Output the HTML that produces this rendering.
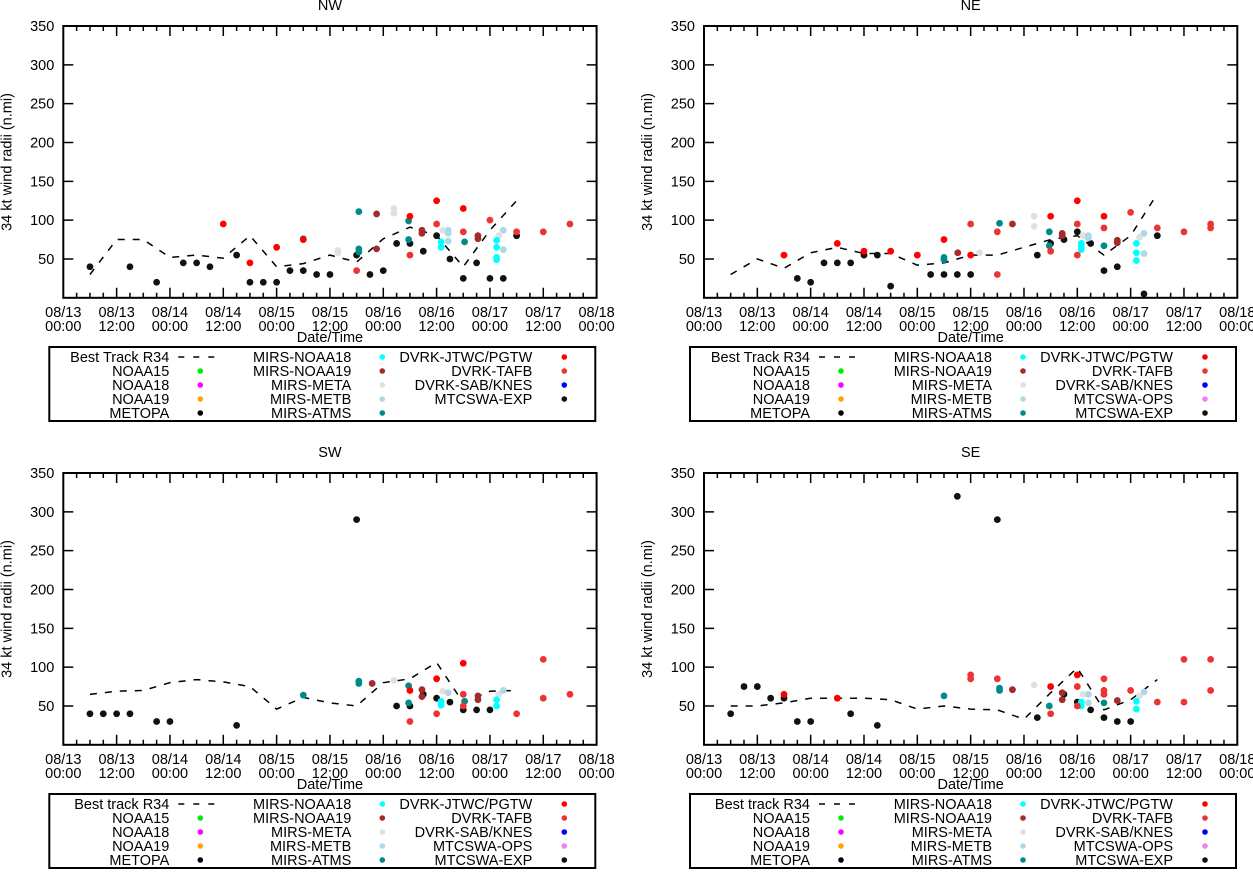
<!DOCTYPE html>
<html><head><meta charset="utf-8"><style>
html,body{margin:0;padding:0;background:#fff;}
svg text{font-family:"Liberation Sans",sans-serif;font-size:14.5px;fill:#000;}
</style></head><body>
<svg id="c" width="1253" height="870" xmlns="http://www.w3.org/2000/svg"></svg>
<script>
const xTickTop = ["08/13","08/13","08/14","08/14","08/15","08/15","08/16","08/16","08/17","08/17","08/18"];
const xTickBot = ["00:00","12:00","00:00","12:00","00:00","12:00","00:00","12:00","00:00","12:00","00:00"];
const yTicks = [50,100,150,200,250,300,350];

// NW
const NW_BEST = [[6,30],[12,75],[18,75],[24,52],[30,55],[36,51],[42,80],[48,40],[54,44],[60,55],[66,46],[72,76],[78,91],[84,80],[90,40],[96,87],[102,125]];
const NW_BLACK = [[6,40],[15,40],[21,20],[27,45],[30,45],[33,40],[39,55],[42,20],[45,20],[48,20],[51,35],[54,35],[57,30],[60,30],[66,55],[69,30],[72,35],[75,70],[78,70],[81,60],[84,80],[87,50],[90,25],[93,45],[96,25],[99,25],[102,80]];
const NW_JTWC = [[36,95],[42,45],[48,65],[54,75],[78,105],[84,125],[90,115]];
const NW_TAFB = [[66,35],[78,55],[84,95],[90,85],[96,100],[102,85],[108,85],[114,95]];
const NW_N19 = [[70.5,108],[70.5,63],[80.7,87],[80.7,83],[93.3,80],[93.3,76]];
const NW_META = [[61.8,61],[61.8,58],[74.4,115],[74.4,109],[85.4,87],[98,80]];
const NW_METB = [[86.6,87],[86.6,83],[86.6,73],[99,87],[99,62]];
const NW_N18 = [[85,72],[85,65],[97.5,74],[97.5,65],[97.5,52],[97.5,49]];
const NW_ATMS = [[66.5,111],[66.5,63],[66.5,59],[54,76],[77.7,99],[77.7,75],[90.3,72]];
// NE
const NE_BEST = [[6,30],[12,50],[18,38],[24,58],[30,65],[36,57],[42,57],[48,42],[54,45],[60,55],[66,55],[72,65],[78,75],[84,80],[90,55],[96,80],[102,134]];
const NE_BLACK = [[21,25],[24,20],[27,45],[30,45],[33,45],[36,55],[39,55],[42,15],[51,30],[54,30],[57,30],[60,30],[75,55],[78,70],[81,75],[84,85],[87,70],[90,35],[93,40],[99,5],[102,80]];
const NE_JTWC = [[18,55],[30,70],[36,60],[42,60],[48,55],[54,75],[60,55],[78,105],[84,125],[90,105]];
const NE_TAFB = [[60,95],[66,85],[66,30],[78,60],[84,95],[84,55],[90,90],[96,110],[102,90],[108,85],[114,95],[114,90]];
const NE_N19 = [[57.1,58],[69.4,95],[80.6,83],[80.6,80],[93,74],[93,71]];
const NE_META = [[62,58],[74.3,105],[74.3,92],[85.3,80],[98,78]];
const NE_METB = [[86.5,80],[86.5,77],[99,83],[99,57]];
const NE_N18 = [[84.9,70],[84.9,66],[84.9,62],[97.3,70],[97.3,58],[97.3,48]];
const NE_ATMS = [[54,52],[54,49],[66.5,96],[77.7,85],[77.7,67],[90,67]];
// SW
const SW_BEST = [[6,65],[12,69],[18,70],[24,80],[30,84],[36,81],[42,75],[48,46],[54,61],[60,54],[66,50],[72,80],[78,85],[84,106],[90,54],[96,69],[102,70]];
const SW_BLACK = [[6,40],[9,40],[12,40],[15,40],[21,30],[24,30],[39,25],[66,290],[75,50],[78,50],[81,65],[84,60],[87,55],[90,45],[93,45],[96,45]];
const SW_JTWC = [[78,70],[84,85],[90,105]];
const SW_TAFB = [[78,30],[84,40],[90,65],[90,50],[102,40],[108,110],[108,60],[114,65]];
const SW_N19 = [[69.5,79],[80.7,71],[80.7,62],[93.3,63],[93.3,58]];
const SW_META = [[74.4,83],[85.4,69],[98,65]];
const SW_METB = [[86.6,67],[99,70]];
const SW_N18 = [[85,56],[85,51],[97.5,58],[97.5,50]];
const SW_ATMS = [[54,64],[66.5,82],[66.5,79],[77.7,76],[77.7,54],[90.3,56]];
// SE
const SE_BEST = [[6,50],[12,50],[18,54],[24,60],[30,60],[36,60],[42,58],[48,46],[54,50],[60,46],[66,45],[72,33],[78,67],[84,99],[90,45],[96,58],[102,84]];
const SE_BLACK = [[6,40],[9,75],[12,75],[15,60],[18,60],[21,30],[24,30],[33,40],[39,25],[57,320],[66,290],[75,35],[81,65],[84,55],[87,45],[90,35],[93,30],[96,30]];
const SE_JTWC = [[18,65],[30,60],[78,75],[84,90]];
const SE_TAFB = [[60,90],[60,85],[66,85],[78,40],[84,75],[84,50],[90,85],[90,70],[90,65],[96,70],[102,55],[108,110],[108,55],[114,110],[114,70]];
const SE_N19 = [[69.4,71],[80.6,67],[80.6,58],[93,57]];
const SE_META = [[74.3,77],[85.3,65],[98,63]];
const SE_METB = [[86.5,65],[86.5,54],[99,68]];
const SE_N18 = [[84.9,55],[84.9,50],[97.3,56],[97.3,46]];
const SE_ATMS = [[54,63],[66.5,73],[66.5,70],[77.7,50],[90,54]];

const NS="http://www.w3.org/2000/svg";
const svg=document.getElementById('c');
function mk(tag,attrs,parent){const e=document.createElementNS(NS,tag);for(const k in attrs)e.setAttribute(k,attrs[k]);(parent||svg).appendChild(e);return e;}
const PW=533.3, PH=271.8, HRS=120, VMAX=350;
const COL={best:'#000',black:'#111',jtwc:'#ff0000',tafb:'#ee3333',n19:'#a52a2a',meta:'#e0e0e0',metb:'#add8e6',n18:'#00ffff',atms:'#008b8b'};

function panel(name,title,L,T,best,series,bestLabel,hasOps){
  const g=mk('g',{});
  
  
  const xs=h=>L+h*PW/HRS, ys=v=>T+(VMAX-v)*PH/VMAX;
  const t=mk('text',{x:L+PW/2,y:T-16,'text-anchor':'middle'},g);t.textContent=title;
  
  
  const yl=mk('text',{x:0,y:0,'text-anchor':'middle',transform:`translate(${L-52},${T+136}) rotate(-90)`},g);yl.textContent='34 kt wind radii (n.mi)';
  
  
  const xl=mk('text',{x:L+PW/2,y:T+316,'text-anchor':'middle'},g);xl.textContent='Date/Time';
  
  
  let d='';
  for(let h=3;h<HRS;h+=3){const len=(h%12===0)?10:5;const x=xs(h);d+=`M${x},${T+PH}v${-len}M${x},${T}v${len}`;}
  yTicks.forEach(v=>{if(v<VMAX){const y=ys(v);d+=`M${L},${y}h10M${L+PW},${y}h-10`;}});
  const tk=mk('path',{d:d,stroke:'#000','stroke-width':1.5,fill:'none'},g);
  
  
  yTicks.forEach(v=>{const e=mk('text',{x:L-9,y:ys(v)+5,'text-anchor':'end'},g);e.textContent=v;
    
    });
  xTickTop.forEach((s,i)=>{const x=xs(i*12);
    const a=mk('text',{x:x,y:T+291,'text-anchor':'middle'},g);a.textContent=s;
    
    
    const b=mk('text',{x:x,y:T+305,'text-anchor':'middle'},g);b.textContent=xTickBot[i];
    
    });
  const bp=best.map((p,i)=>(i?'L':'M')+xs(p[0])+','+ys(p[1])).join('');
  const bl=mk('path',{d:bp,stroke:'#000','stroke-width':1.5,fill:'none','stroke-dasharray':'7,8'},g);
  
  
  series.forEach(s=>{s.data.forEach(p=>{
    const c=mk('circle',{cx:xs(p[0]),cy:ys(p[1]),r:3.4,fill:s.color},g);
    
    });});
  const fr=mk('rect',{x:L,y:T,width:PW,height:PH,fill:'none',stroke:'#000','stroke-width':2},g);
  
  
  const lg=mk('g',{},g);
  
  
  const lb=mk('rect',{x:L-14,y:T+321,width:546,height:74,fill:'none',stroke:'#000','stroke-width':2},lg);
  
  
  const cols=[
    [[bestLabel,null],['NOAA15','#00ee00'],['NOAA18','#ff00ff'],['NOAA19','#ffa500'],['METOPA','#000']],
    [['MIRS-NOAA18','#00ffff'],['MIRS-NOAA19','#a52a2a'],['MIRS-META','#e0e0e0'],['MIRS-METB','#add8e6'],['MIRS-ATMS','#008b8b']],
    hasOps?[['DVRK-JTWC/PGTW','#ff0000'],['DVRK-TAFB','#ee3333'],['DVRK-SAB/KNES','#0000ff'],['MTCSWA-OPS','#ee82ee'],['MTCSWA-EXP','#111']]
          :[['DVRK-JTWC/PGTW','#ff0000'],['DVRK-TAFB','#ee3333'],['DVRK-SAB/KNES','#0000ff'],['MTCSWA-EXP','#111']]
  ];
  const rx=[106,288,469], mx=[137,319,501];
  cols.forEach((col,ci)=>col.forEach((it,ri)=>{
    const y=T+331+14*ri;
    const tx=mk('text',{x:L+rx[ci],y:y+5,'text-anchor':'end'},lg);tx.textContent=it[0];
    
    
    if(it[1]){const c=mk('circle',{cx:L+mx[ci],cy:y,r:2.8,fill:it[1]},lg);
      
      }
    else{const ln=mk('path',{d:`M${L+115},${y}H${L+153}`,stroke:'#000','stroke-width':1.5,'stroke-dasharray':'6,9'},lg);
      
      }
  }));
}
function S(bl,j,t,n19,meta,metb,n18,atms){return [
  {key:'mtcswa',color:COL.black,data:bl},{key:'meta',color:COL.meta,data:meta},{key:'metb',color:COL.metb,data:metb},
  {key:'n19',color:COL.n19,data:n19},{key:'n18',color:COL.n18,data:n18},{key:'atms',color:COL.atms,data:atms},
  {key:'tafb',color:COL.tafb,data:t},{key:'jtwc',color:COL.jtwc,data:j}];}
panel('nw','NW',63.3,26,NW_BEST,S(NW_BLACK,NW_JTWC,NW_TAFB,NW_N19,NW_META,NW_METB,NW_N18,NW_ATMS),'Best Track R34',false);
panel('ne','NE',704,26,NE_BEST,S(NE_BLACK,NE_JTWC,NE_TAFB,NE_N19,NE_META,NE_METB,NE_N18,NE_ATMS),'Best Track R34',true);
panel('sw','SW',63.3,473,SW_BEST,S(SW_BLACK,SW_JTWC,SW_TAFB,SW_N19,SW_META,SW_METB,SW_N18,SW_ATMS),'Best track R34',true);
panel('se','SE',704,473,SE_BEST,S(SE_BLACK,SE_JTWC,SE_TAFB,SE_N19,SE_META,SE_METB,SE_N18,SE_ATMS),'Best track R34',true);
</script>
</body></html>
